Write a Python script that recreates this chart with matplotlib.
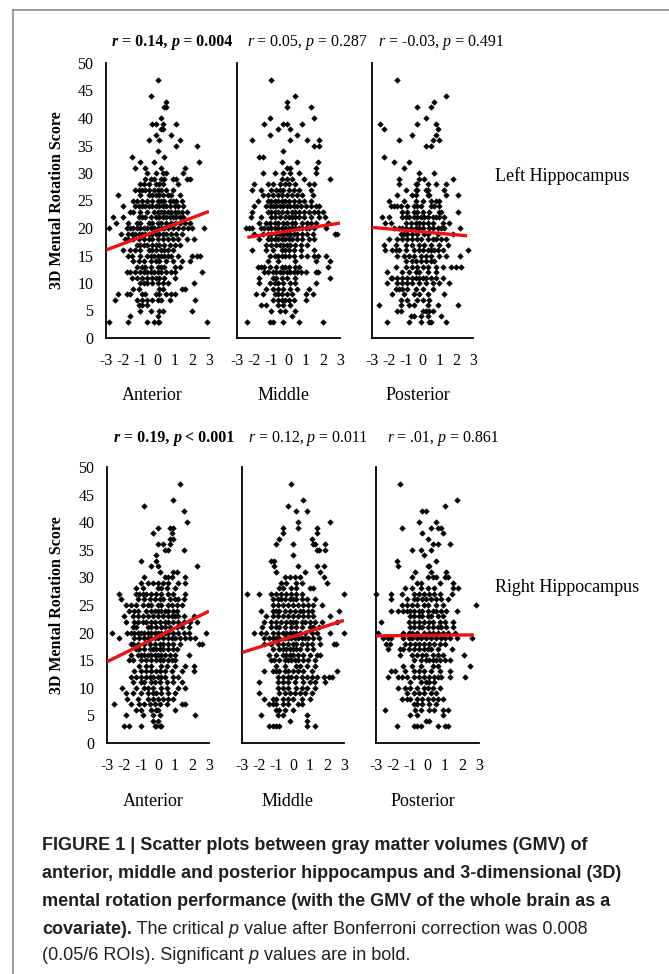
import numpy as np
import matplotlib
matplotlib.use("Agg")
import matplotlib.pyplot as plt
from matplotlib.offsetbox import TextArea, HPacker, AnnotationBbox
from matplotlib.lines import Line2D

plt.rcParams['axes.unicode_minus'] = False

# ---- data: each panel as rows of (score, [GMV z-values]) ----
left_anterior = [
    (47, [0.0]), (44, [-0.4]), (43, [0.5]), (42, [0.4, 0.5]), (40, [0.2]),
    (39, [-0.3, -0.1, 0.3, 1.1]), (38, [0.2, 0.3]), (37, [-0.1, 0.8]),
    (36, [-0.5, 0.1, 1.3]), (35, [1.1, 2.3]), (34, [0.0]), (33, [-1.5, 0.4]),
    (32, [-1.0, -0.2, 2.4]), (31, [-1.3, -0.7, 0.2, 1.6]),
    (30, [-0.6, -0.1, 0.3, 0.5, 1.5]),
    (29, [-0.7, -0.4, -0.2, 0.2, 0.4, 0.9, 1.1, 1.7, 1.9]),
    (28, [-1.0, -0.8, -0.5, -0.1, 0.1, 0.3, 1.2]),
    (27, [-1.3, -1.1, -0.9, -0.7, -0.5, -0.2, 0.0, 0.2, 0.5, 0.9]),
    (26, [-2.3, -1.0, -0.5, -0.3, -0.1, 0.1, 0.3, 0.6, 0.8, 1.3]),
    (25, [-1.4, -1.2, -0.9, -0.6, -0.3, 0.0, 0.2, 0.4, 0.7, 0.9, 1.1, 1.4]),
    (24, [-2.0, -1.3, -1.1, -0.9, -0.7, -0.5, -0.3, -0.1, 0.1, 0.3, 0.5, 0.7, 1.0, 1.2, 1.5]),
    (23, [-1.6, -1.4, -1.0, -0.6, -0.2, 0.0, 0.2, 0.4, 0.6, 0.8, 1.0, 1.2, 1.4, 1.7]),
    (22, [-2.6, -2.0, -1.1, -0.9, -0.7, -0.4, -0.1, 0.1, 0.3, 0.5, 0.7, 0.9, 1.1, 1.3, 1.5]),
    (21, [-2.4, -1.7, -1.2, -1.0, -0.5, -0.3, 0.0, 0.2, 0.5, 0.8, 1.0, 1.3, 1.6, 1.9]),
    (20, [-2.8, -1.8, -1.6, -1.4, -1.2, -1.0, -0.8, -0.6, -0.4, -0.2, 0.0, 0.2, 0.4, 0.6, 0.9, 1.2, 1.5, 1.8, 2.0, 2.7]),
    (19, [-2.1, -1.7, -1.5, -1.3, -1.1, -0.9, -0.7, -0.5, -0.3, -0.1, 0.1, 0.3, 0.5, 0.8, 1.1, 1.4]),
    (18, [-1.9, -1.7, -1.4, -1.1, -0.8, -0.5, -0.3, 0.0, 0.3, 0.6, 0.9, 1.2, 1.7, 2.1]),
    (17, [-1.2, -1.0, -0.8, -0.6, -0.3, -0.1, 0.1, 0.4, 0.7, 1.0, 1.3]),
    (16, [-2.0, -1.6, -1.3, -1.0, -0.5, -0.3, -0.1, 0.2, 0.4, 0.6, 0.9]),
    (15, [-1.7, -1.5, -1.0, -0.6, -0.4, -0.2, 0.0, 0.2, 0.4, 0.6, 0.8, 1.2, 2.0, 2.3, 2.5]),
    (14, [-1.4, -1.1, -0.8, -0.4, -0.1, 0.1, 0.5, 0.9, 1.4, 1.9]),
    (13, [-1.2, -0.9, -0.7, -0.4, 0.0, 0.2, 0.4, 1.0, 1.3]),
    (12, [-1.8, -1.6, -1.3, -1.0, -0.8, -0.6, -0.4, -0.2, 0.0, 0.2, 0.5, 0.8, 1.0, 2.6]),
    (11, [-1.5, -1.2, -0.9, -0.6, -0.3, -0.1, 0.1, 0.4, 1.0]),
    (10, [-1.0, -0.8, -0.6, -0.3, 0.0, 0.3, 0.6, 2.1]),
    (9, [-1.4, -1.1, 0.1, 0.3, 1.4, 1.6]),
    (8, [-2.3, -1.8, -1.6, -0.9, -0.7, -0.1, 0.1, 0.5, 0.8, 1.0]),
    (7, [-2.5, -1.2, -0.9, -0.6, -0.3, 0.0, 0.2, 0.7, 2.2]),
    (6, [-1.1, -0.9, -0.6]), (5, [-1.0, -0.4, 0.1, 0.3, 2.0]), (4, [-1.6, 0.0]),
    (3, [-2.8, -1.7, -0.6, -0.2, 0.0, 0.1, 2.9]),
]

left_middle = [
    (47, [-1.0]), (44, [0.4]), (43, [-0.1]), (42, [-0.1, 1.3]), (40, [-1.1, 1.5]),
    (39, [-1.4, -0.3, -0.1, 0.8]), (38, [-0.6, 0.1]), (37, [-1.1, 0.5]),
    (36, [-2.1, 0.1, 1.1, 1.8]), (35, [1.5, 1.8]), (34, [-0.3]), (33, [-1.7, -1.5]),
    (32, [-0.4, 0.5, 1.7]), (31, [-0.1, 0.1, 1.6]),
    (30, [-1.5, -0.8, -0.3, 0.1, 0.6, 1.6]),
    (29, [-0.4, -0.1, 0.2, 0.9, 2.4]),
    (28, [-2.0, -1.2, -0.9, -0.5, -0.2, 0.0, 0.4, 1.2, 1.5]),
    (27, [-2.1, -1.6, -1.0, -0.7, -0.5, -0.3, 0.0, 0.3, 0.6, 1.3]),
    (26, [-1.5, -1.2, -0.9, -0.6, -0.4, -0.1, 0.2, 0.5, 0.8, 1.4]),
    (25, [-1.8, -1.2, -1.0, -0.8, -0.6, -0.4, -0.2, 0.0, 0.3, 0.6, 0.9, 1.3]),
    (24, [-2.0, -1.3, -1.1, -0.9, -0.7, -0.5, -0.3, -0.1, 0.1, 0.3, 0.5, 0.7, 1.0, 1.3, 1.6, 1.8]),
    (23, [-2.1, -1.2, -1.0, -0.8, -0.6, -0.4, -0.1, 0.2, 0.4, 0.6, 0.9, 1.2, 1.5, 1.7, 2.0]),
    (22, [-2.2, -1.6, -1.0, -0.8, -0.5, -0.2, 0.0, 0.2, 0.4, 0.6, 0.9, 1.3, 1.8, 2.1]),
    (21, [-1.7, -1.3, -1.1, -0.8, -0.6, -0.3, -0.1, 0.2, 0.4, 0.8, 1.1, 1.3, 1.6, 2.3]),
    (20, [-2.5, -2.3, -2.1, -1.6, -1.4, -1.2, -1.0, -0.8, -0.6, -0.4, -0.2, 0.0, 0.2, 0.4, 0.6, 0.8, 1.0, 1.2, 1.5, 2.2]),
    (19, [-2.0, -1.5, -1.2, -1.0, -0.7, -0.5, -0.3, -0.1, 0.1, 0.3, 0.5, 0.8, 1.1, 1.4, 2.7, 2.8]),
    (18, [-1.7, -1.2, -1.0, -0.8, -0.6, -0.4, -0.2, 0.0, 0.2, 0.5, 0.8, 1.2, 1.5]),
    (17, [-1.3, -1.0, -0.7, -0.5, -0.3, -0.1, 0.1, 0.4, 0.7, 1.1]),
    (16, [-2.1, -1.3, -0.9, -0.4, -0.2, 0.0, 0.3, 0.7, 1.5]),
    (15, [-1.1, -0.8, -0.6, -0.4, -0.2, 0.0, 0.3, 0.7, 1.1, 1.5, 1.7, 2.2]),
    (14, [-1.2, -0.6, 0.4, 1.6, 2.4]),
    (13, [-1.8, -1.6, -1.4, -1.1, -0.7, -0.4, -0.2, 0.0, 0.4, 0.6, 2.3]),
    (12, [-1.4, -1.2, -0.9, -0.7, -0.5, -0.3, -0.1, 0.1, 0.3, 0.5, 0.7, 1.0, 1.6, 1.7]),
    (11, [-1.7, -0.9, -0.7, -0.4, -0.1, 0.4, 2.4]),
    (10, [-1.7, -1.1, -0.8, -0.6, -0.3, 0.1, 0.4, 1.6]),
    (9, [-1.3, -0.9, -0.6, -0.3, 0.1, 0.5, 1.2]),
    (8, [-1.9, -1.5, -0.8, -0.6, -0.4, -0.1, 0.2, 1.0, 1.4]),
    (7, [-0.9, -0.6, -0.4, -0.2, 0.0, 0.3, 1.0]),
    (6, [-1.6, -1.3, -0.6, -0.3, 0.1]), (5, [-1.0, -0.5, -0.2, 0.4]), (4, [0.2]),
    (3, [-2.4, -1.1, -0.9, -0.3, 0.6, 2.0]),
]

left_posterior = [
    (47, [-1.5]), (44, [1.4]), (43, [0.7]), (42, [-0.3, 0.5]), (40, [0.2]),
    (39, [-2.5, -0.3, 0.8]), (38, [-2.3, 0.9]), (37, [-0.6, 0.8]),
    (36, [-1.4, 0.6, 1.0]), (35, [0.2, 0.5]), (33, [-2.3]), (32, [-1.7, -0.8]),
    (31, [-1.1]), (30, [-0.2, 0.7]), (29, [-1.4, -0.2, 0.1, 1.8]),
    (28, [-1.4, -0.4, -0.3, 0.3, 0.8, 1.4]),
    (27, [-1.0, -0.4, -0.3, 0.2, 0.3, 1.3]),
    (26, [-1.5, -0.6, -0.4, 0.3, 0.4, 1.4, 2.1]),
    (25, [-2.0, -1.1, -0.4, 0.0, 0.5, 0.8, 1.0]),
    (24, [-1.9, -1.7, -1.5, -1.3, -0.9, -0.5, -0.3, -0.1, 0.5, 0.7, 1.0]),
    (23, [-1.2, -0.9, -0.5, -0.3, 0.0, 0.4, 1.0, 1.1, 2.1]),
    (22, [-2.4, -2.0, -1.2, -1.0, -0.8, -0.5, -0.3, -0.1, 0.1, 0.3, 0.6, 0.8, 1.0, 1.3]),
    (21, [-2.2, -1.9, -1.0, -0.7, -0.4, -0.2, 0.0, 0.3, 0.6, 1.2, 1.6]),
    (20, [-1.7, -1.4, -1.2, -1.0, -0.7, -0.4, -0.2, 0.0, 0.4, 0.6, 0.9, 1.1, 1.3, 2.2]),
    (19, [-1.3, -1.1, -0.9, -0.6, -0.3, 0.1, 0.3, 0.9, 1.8]),
    (18, [-2.0, -1.5, -1.2, -0.9, -0.6, -0.3, -0.1, 0.3, 0.6, 0.8, 1.1, 1.4]),
    (17, [-2.3, -1.6, -1.0, -0.6, -0.2, 0.1, 0.5, 1.0, 1.5]),
    (16, [-2.2, -1.8, -1.6, -1.4, -1.0, -0.5, -0.2, 0.0, 0.3, 0.5, 0.7, 0.9, 1.2, 2.7]),
    (15, [-1.5, -1.1, -0.8, -0.5, -0.1, 0.2, 0.5, 1.0, 1.4, 2.2]),
    (14, [-1.0, -0.6, -0.4, -0.1, 0.2, 0.5, 0.7]),
    (13, [-1.6, -1.0, -0.6, -0.3, 0.0, 0.3, 0.8, 1.2, 1.7, 2.0, 2.3]),
    (12, [-2.1, -1.2, -0.8, -0.4, -0.2, 0.3, 0.8]),
    (11, [-1.9, -1.8, -1.5, -1.2, -0.9, -0.6, -0.4, -0.2, 0.0, 0.2, 0.5, 0.8, 1.2]),
    (10, [-2.1, -1.5, -1.2, -0.9, -0.6, -0.2, 0.2, 0.6, 1.0, 1.6]),
    (9, [-1.6, -1.4, -1.2, -0.9, -0.4, 0.0, 0.6]),
    (8, [-1.8, -1.1, -0.5, -0.2, 0.3, 1.3]),
    (7, [-1.3, -0.9, -0.3, 0.0, 0.4]),
    (6, [-2.6, -1.3, -0.8, -0.5, 0.3, 0.9, 2.1]),
    (5, [-1.5, -1.3, 0.0, 0.2, 0.4, 0.6]),
    (4, [-0.7, -0.5, -0.1, 0.3, 1.1]),
    (3, [-2.1, -0.8, -0.1, 0.4, 0.5, 1.4]),
]

right_anterior = [
    (47, [1.3]), (44, [0.9]), (43, [-0.8]), (42, [1.5]), (40, [1.7]),
    (39, [0.0, 0.7, 0.9]), (38, [-0.3, 0.8]), (37, [0.7, 0.9]), (36, [0.0, 0.3, 0.7]),
    (35, [0.4, 0.6, 1.5]), (34, [-0.1]), (33, [-1.0, -0.1]), (32, [-0.4, 0.0, 2.3]),
    (31, [0.1, 0.9, 1.1]), (30, [-0.8, 0.4, 0.6, 0.8, 1.6]),
    (29, [-1.0, -0.6, -0.3, 0.0, 0.3, 0.6, 1.2, 1.6]),
    (28, [-1.3, -0.9, 0.0, 0.2, 0.5, 1.0]),
    (27, [-2.3, -1.3, -1.1, -0.9, -0.7, -0.4, -0.1, 0.2, 0.6, 0.9, 1.6]),
    (26, [-2.2, -1.2, -0.8, -0.5, -0.2, 0.1, 0.3, 0.7, 1.0, 1.2, 1.5]),
    (25, [-1.9, -1.6, -1.3, -0.9, -0.6, -0.4, 0.0, 0.2, 0.6, 0.8, 1.1, 1.4]),
    (24, [-1.7, -1.4, -1.2, -0.7, -0.4, -0.2, 0.0, 0.2, 0.4, 0.6, 0.9, 1.1]),
    (23, [-2.0, -1.5, -1.2, -0.9, -0.6, -0.3, 0.0, 0.3, 0.6, 0.8, 1.0, 1.2, 1.5, 2.1]),
    (22, [-1.9, -1.4, -1.2, -0.9, -0.7, -0.4, -0.2, 0.1, 0.4, 0.6, 0.9, 1.2, 1.5, 1.9, 2.3]),
    (21, [-1.5, -1.3, -0.6, -0.4, -0.1, 0.2, 0.4, 0.7, 1.1, 1.4, 1.8]),
    (20, [-2.7, -1.8, -1.6, -1.4, -1.2, -1.0, -0.8, -0.6, -0.4, -0.2, 0.0, 0.2, 0.4, 0.6, 0.9, 1.2, 1.5, 1.8, 2.8]),
    (19, [-2.3, -1.4, -1.1, -0.8, -0.6, -0.4, -0.2, 0.0, 0.3, 0.6, 0.8, 1.0, 1.3, 1.6, 1.9, 2.2]),
    (18, [-1.6, -1.5, -1.2, -0.8, -0.5, -0.2, 0.1, 0.3, 0.6, 0.9, 1.3, 2.4, 2.6]),
    (17, [-1.3, -1.1, -0.8, -0.5, -0.3, -0.1, 0.1, 0.3, 0.6, 0.9, 1.1]),
    (16, [-1.6, -1.2, -1.0, -0.8, -0.6, -0.4, -0.2, 0.0, 0.2, 0.4, 0.7, 1.0, 1.8]),
    (15, [-1.7, -1.5, -1.0, -0.7, -0.4, -0.1, 0.1, 0.3, 0.6, 0.8, 1.0]),
    (14, [-1.1, -0.7, -0.4, 0.2, 0.5, 1.0, 1.6, 2.1]),
    (13, [-1.4, -1.0, -0.7, -0.4, -0.1, 0.1, 0.4, 0.8, 1.4, 2.1]),
    (12, [-1.6, -1.3, -1.0, -0.7, -0.5, -0.3, 0.0, 0.2, 0.4, 0.9, 1.2]),
    (11, [-1.5, -1.0, -0.8, -0.4, -0.2, 0.1, 0.5, 0.9, 1.4]),
    (10, [-2.1, -1.3, -0.8, -0.6, -0.3, 0.2, 0.5, 1.2, 1.6]),
    (9, [-1.9, -1.5, -1.0, -0.6, -0.3, -0.1, 0.2, 0.6, 1.0]),
    (8, [-1.8, -1.2, -0.6, -0.3, 0.0, 0.3, 0.6, 0.9]),
    (7, [-2.6, -1.6, -1.1, -0.8, -0.5, -0.2, 0.1, 0.5, 1.4, 1.6]),
    (6, [-1.3, -1.0, -0.4, -0.1, 0.0, 1.0]),
    (5, [-1.9, -0.9, -0.3, 0.1, 2.2]), (4, [-0.3, 0.0]),
    (3, [-2.0, -1.7, -1.0, -0.2, -0.1, 0.1, 0.2]),
]

right_middle = [
    (47, [-0.1]), (44, [0.6]), (43, [-0.3]), (42, [0.2, 0.8]), (40, [0.3, 2.2]),
    (39, [-0.6, 0.3, 1.4]), (38, [-0.6, 1.4]), (37, [-0.8, 1.1]),
    (36, [-1.0, 0.0, 1.2, 1.3, 1.9]), (35, [1.4, 1.5, 1.9]), (34, [0.0]),
    (33, [-1.3, -1.1]), (32, [-1.1, 0.3, 1.4, 1.8]), (31, [-1.0, 0.7, 1.6]),
    (30, [-0.5, -0.2, 0.1, 0.4, 1.8]), (29, [-0.7, -0.4, 0.2, 0.5, 2.0]),
    (28, [-0.8, -0.6, -0.1, 0.2, 1.0, 1.2]),
    (27, [-2.7, -2.0, -1.3, -1.0, -0.7, -0.4, -0.1, 0.2, 0.5, 3.0]),
    (26, [-1.2, -0.9, -0.7, -0.5, -0.2, 0.0, 0.2, 0.5, 0.8, 1.3]),
    (25, [-1.2, -0.9, -0.6, -0.3, 0.0, 0.3, 0.6, 0.9, 1.2, 1.7]),
    (24, [-1.9, -1.2, -1.0, -0.8, -0.5, -0.2, 0.1, 0.4, 0.6, 0.9, 1.1, 2.7]),
    (23, [-1.6, -1.2, -0.9, -0.6, -0.3, 0.0, 0.3, 0.6, 0.9, 1.2, 2.2]),
    (22, [-1.7, -1.3, -1.0, -0.7, -0.4, -0.2, 0.0, 0.2, 0.5, 0.7, 1.0, 1.3, 1.7, 2.6]),
    (21, [-1.8, -1.3, -1.0, -0.8, -0.5, -0.1, 0.2, 0.5, 1.0, 1.2, 1.5]),
    (20, [-2.3, -1.9, -1.6, -1.2, -0.9, -0.6, -0.4, -0.2, 0.0, 0.2, 0.4, 0.7, 1.1, 1.4, 2.2, 3.0]),
    (19, [-1.7, -1.4, -1.2, -1.0, -0.8, -0.5, -0.3, -0.1, 0.1, 0.3, 0.5, 0.7, 0.9, 1.2, 1.5]),
    (18, [-1.7, -1.3, -0.9, -0.6, -0.3, 0.0, 0.2, 0.5, 0.8, 1.1, 1.6, 2.4, 2.5]),
    (17, [-1.2, -0.8, -0.6, -0.4, -0.2, 0.0, 0.2, 0.4, 0.8, 1.2]),
    (16, [-1.4, -1.0, -0.6, -0.4, -0.2, 0.0, 0.3, 0.6, 1.0, 1.4, 1.6]),
    (15, [-1.3, -1.1, -0.8, -0.5, -0.3, -0.1, 0.1, 0.3, 0.6, 0.9, 1.3]),
    (14, [-1.0, -0.5, 0.2, 0.4, 0.8, 1.3]),
    (13, [-1.7, -1.2, -1.0, -0.8, -0.5, -0.3, 0.0, 0.3, 0.6, 1.1, 2.6]),
    (12, [-0.9, -0.6, -0.3, -0.1, 0.2, 0.5, 0.8, 1.1, 1.4, 1.8, 2.1, 2.3]),
    (11, [-2.0, -0.9, -0.6, -0.3, 0.1, 0.6, 1.0, 1.3, 1.9]),
    (10, [-0.9, -0.6, -0.3, 0.2, 0.5, 0.8, 1.3]),
    (9, [-2.0, -0.8, -0.5, -0.2, 0.1, 0.4, 0.7, 1.1]),
    (8, [-1.7, -1.2, -1.0, -0.6, -0.3, 0.0, 0.5, 1.0]),
    (7, [-1.4, -1.2, -1.0, -0.6, -0.3, 0.3, 0.5]),
    (6, [-1.0, -0.8, -0.5, 0.0]), (5, [-1.9, -0.9, -0.6, 0.8]), (4, [-0.2, 0.8]),
    (3, [-1.4, -1.2, -1.0, -0.8, 0.8, 1.3]),
]

right_posterior = [
    (47, [-1.6]), (44, [1.7]), (43, [1.0]), (42, [-0.3, -0.1]), (40, [-0.5, 0.5]),
    (39, [-1.5, 0.2, 0.6, 0.8]), (38, [-0.3, 0.9]), (37, [0.0]), (36, [0.3, 0.6, 1.3]),
    (35, [-0.9, -0.4, 0.2]), (34, [-0.2]), (33, [-1.8, 0.5]), (32, [-1.7, 0.0, 0.1]),
    (31, [-0.7, 0.2, 1.1]), (30, [-0.9, 0.0, 0.3, 0.5, 1.0, 1.2]),
    (29, [-0.6, -0.4, 0.7, 1.5]), (28, [-1.3, -0.9, -0.4, 0.0, 0.4, 1.5, 1.8]),
    (27, [-3.0, -2.1, -1.5, -0.8, -0.5, -0.2, 0.1, 0.4, 0.7, 1.4]),
    (26, [-2.1, -1.2, -0.8, -0.6, -0.3, -0.1, 0.2, 0.5, 0.8, 1.2]),
    (25, [-1.5, -1.2, -0.9, -0.6, -0.2, 0.0, 0.5, 0.9, 2.8]),
    (24, [-2.1, -1.7, -1.4, -1.2, -1.0, -0.8, -0.5, -0.3, 0.0, 0.3, 0.5, 0.8, 1.1, 1.7]),
    (23, [-1.0, -0.8, -0.5, -0.3, 0.0, 0.2, 0.6, 0.9]),
    (22, [-2.7, -1.1, -0.8, -0.5, -0.2, 0.1, 0.3, 0.7, 1.0, 1.5]),
    (21, [-1.0, -0.8, -0.5, -0.3, 0.0, 0.3, 0.6, 0.8, 1.1, 1.5]),
    (20, [-2.9, -1.4, -1.1, -0.9, -0.6, -0.2, 0.1, 0.3, 0.6, 0.9, 1.2, 1.6]),
    (19, [-2.6, -2.3, -2.1, -1.4, -1.1, -0.9, -0.6, -0.4, -0.1, 0.2, 0.5, 0.8, 1.0, 1.3, 1.7, 2.6]),
    (18, [-2.4, -2.2, -1.3, -1.0, -0.7, -0.5, -0.2, 0.1, 0.4, 0.7, 1.0]),
    (17, [-2.3, -1.6, -1.4, -1.1, -0.8, -0.5, -0.2, 0.0, 0.2, 0.6, 1.4]),
    (16, [-1.6, -0.9, -0.6, -0.3, -0.1, 0.3, 0.6, 0.9, 2.1]),
    (15, [-0.8, -0.4, -0.1, 0.1, 0.3, 0.5, 0.7, 1.0, 1.3]),
    (14, [-1.4, -0.9, -0.4, 0.3, 0.6, 2.5]),
    (13, [-2.1, -1.9, -1.3, -0.8, -0.5, -0.2, 0.2, 0.7, 1.3]),
    (12, [-2.3, -1.7, -1.5, -1.2, -0.8, -0.5, -0.2, 0.1, 0.4, 0.6, 0.8, 1.3, 2.2]),
    (11, [-1.0, -0.4, -0.1, 0.1, 0.4]),
    (10, [-1.7, -1.3, -1.0, -0.6, -0.2, 0.0, 0.3, 0.7]),
    (9, [-1.2, -0.8, -0.5, -0.2, 0.2, 0.5]),
    (8, [-1.5, -1.2, -1.0, -0.6, -0.3, 0.0, 0.3, 0.6, 0.9]),
    (7, [-0.8, -0.6, -0.3, 0.1, 0.5]),
    (6, [-2.5, -0.7, -0.4, 0.1, 0.4, 0.9, 1.2]),
    (5, [-1.0, -0.6, 0.9]), (4, [-0.1, 0.1]),
    (3, [-1.8, -0.8, -0.6, -0.4, 0.6, 1.0, 1.2]),
]

# fitted lines: (intercept, slope, x_from, x_to)
left_fits = [(19.5, 1.17, -3.0, 3.0), (19.45, 0.48, -2.4, 3.0), (19.3, -0.27, -3.0, 2.65)]
right_fits = [(19.3, 1.53, -3.0, 3.0), (19.3, 0.97, -3.0, 3.0), (19.5, 0.03, -3.0, 2.7)]

left_r = ["0.14", "0.05", "-0.03"]
left_p = ["= 0.004", "= 0.287", "= 0.491"]
left_sig = [True, False, False]
right_r = ["0.19", "0.12", ".01"]
right_p = ["< 0.001", "= 0.011", "= 0.861"]
right_sig = [True, False, False]

regions = ["Anterior", "Middle", "Posterior"]
x_ticks = [-3, -2, -1, 0, 1, 2, 3]
y_ticks = [0, 5, 10, 15, 20, 25, 30, 35, 40, 45, 50]

caption_lines = [
    [("FIGURE 1 | Scatter plots between gray matter volumes (GMV) of", "bold", "normal")],
    [("anterior, middle and posterior hippocampus and 3-dimensional (3D)", "bold", "normal")],
    [("mental rotation performance (with the GMV of the whole brain as a", "bold", "normal")],
    [("covariate).", "bold", "normal"), (" The critical ", "normal", "normal"),
     ("p", "normal", "italic"), (" value after Bonferroni correction was 0.008", "normal", "normal")],
    [("(0.05/6 ROIs). Significant ", "normal", "normal"), ("p", "normal", "italic"),
     (" values are in bold.", "normal", "normal")],
]

# ---- figure ----
W, H = 669, 974
fig = plt.figure(figsize=(W / 100, H / 100), dpi=100)
SERIF = "Liberation Serif"
SANS = "Liberation Sans"


def add_px_axes(left, right, top, bottom):
    return fig.add_axes([left / W, 1 - bottom / H, (right - left) / W, (bottom - top) / H])


def text_row(segs, size, family, color):
    areas = [TextArea(t, textprops=dict(fontsize=size, family=family, weight=w,
                                        style=s, color=color)) for t, w, s in segs]
    return HPacker(children=areas, pad=0, sep=0, align="baseline")


def put_box(box, x, y, ha=0.5):
    ab = AnnotationBbox(box, (x / W, 1 - y / H), xycoords="figure fraction",
                        box_alignment=(ha, 0.5), frameon=False, pad=0)
    fig.add_artist(ab)


rows = [
    dict(panels=[left_anterior, left_middle, left_posterior], fits=left_fits,
         r=left_r, p=left_p, sig=left_sig, name="Left Hippocampus",
         xs=[(106, 209), (237, 340), (372, 473)], top=63, bottom=338,
         stat_x=[172, 307, 441], stat_y=42, side_y=176),
    dict(panels=[right_anterior, right_middle, right_posterior], fits=right_fits,
         r=right_r, p=right_p, sig=right_sig, name="Right Hippocampus",
         xs=[(107, 209), (242, 344), (376, 479)], top=467, bottom=743,
         stat_x=[174, 308, 443], stat_y=438, side_y=587),
]

for row in rows:
    for i, data in enumerate(row["panels"]):
        left, right = row["xs"][i]
        ax = add_px_axes(left, right, row["top"], row["bottom"])
        px = [x for y, xs in data for x in xs]
        py = [y for y, xs in data for x in xs]
        ax.scatter(px, py, marker="D", s=8, color="black", linewidths=0.4,
                   edgecolors="black", clip_on=False, zorder=2)
        b0, b1, x0, x1 = row["fits"][i]
        lx = np.array([x0, x1])
        ax.plot(lx, b0 + b1 * lx, color="#ee1111", lw=2.4, zorder=3,
                solid_capstyle="butt")
        ax.set_xlim(-3, 3)
        ax.set_ylim(0, 50)
        for s in ["top", "right"]:
            ax.spines[s].set_visible(False)
        for s in ["left", "bottom"]:
            ax.spines[s].set_linewidth(1.3)
        ax.set_xticks(x_ticks)
        ax.set_xticklabels([str(t) for t in x_ticks], fontsize=11.5, family=SERIF)
        ax.tick_params(axis="both", length=0)
        ax.tick_params(axis="x", pad=11)
        if i == 0:
            ax.set_yticks(y_ticks)
            ax.set_yticklabels([str(t) for t in y_ticks], fontsize=11.5, family=SERIF)
            ax.tick_params(axis="y", pad=9)
        else:
            ax.set_yticks([])
        ax.patch.set_visible(False)

        # region label under each panel
        fig.text((left + right) / 2 / W - 5 / W, 1 - (row["bottom"] + 58) / H,
                 regions[i], fontsize=13, family=SERIF, ha="center", va="center")

        # r / p statistics above each panel
        w = "bold" if row["sig"][i] else "normal"
        segs = [("r", w, "italic"), (" = " + row["r"][i] + ", ", w, "normal"),
                ("p", w, "italic"), (" " + row["p"][i], w, "normal")]
        put_box(text_row(segs, 11.5, SERIF, "black"), row["stat_x"][i], row["stat_y"])

    fig.text(495 / W, 1 - row["side_y"] / H, row["name"], fontsize=13, family=SERIF,
             ha="left", va="center")
    fig.text(57 / W, 1 - (row["top"] + row["bottom"]) / 2 / H, "3D Mental Rotation Score",
             rotation=90, fontsize=11.5, weight="bold", family=SERIF,
             ha="center", va="center")

# caption
cap_y = [845, 873, 901, 929, 956]
for segs, y in zip(caption_lines, cap_y):
    put_box(text_row(segs, 13, SANS, "#231f20"), 42, y, ha=0.0)

# frame around the figure panel
fig.add_artist(Line2D([13 / W, 13 / W], [0, 1 - 10 / H], color="#8c8c8c", lw=1.2,
                      transform=fig.transFigure))
fig.add_artist(Line2D([13 / W, 1], [1 - 10 / H, 1 - 10 / H], color="#8c8c8c", lw=1.2,
                      transform=fig.transFigure))

fig.savefig("out.png", dpi=100)
